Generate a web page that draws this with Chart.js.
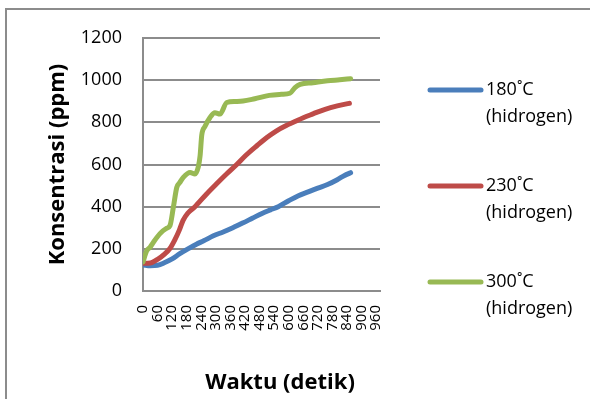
<!DOCTYPE html>
<html>
<head>
<meta charset="utf-8">
<script src="https://cdn.jsdelivr.net/npm/chart.js@4.4.1/dist/chart.umd.min.js"></script>
<style>
  html, body { margin: 0; padding: 0; background: #ffffff; }
  #wrap { width: 590px; height: 399px; }
</style>
</head>
<body>
<div id="wrap"><canvas id="chart" width="590" height="399"></canvas></div>
<script>
// Axis ticks
const timeTicks = [0, 60, 120, 180, 240, 300, 360, 420, 480, 540, 600, 660, 720, 780, 840, 900, 960];
const ppmTicks = [0, 200, 400, 600, 800, 1000, 1200];

// Series names (two text lines each)
const seriesNames = [
  ['180˚C', '(hidrogen)'],
  ['230˚C', '(hidrogen)'],
  ['300˚C', '(hidrogen)']
];

// 180 °C run: time (s) and concentration (ppm)
const time180 = [0, 30, 60, 90, 120, 150, 185, 220, 250, 290, 330, 370, 410, 450, 490, 525, 557, 600, 640, 680, 720, 760, 800, 830, 855];
const ppm180  = [124, 120, 122, 135, 152, 176, 200, 222, 238, 262, 280, 300, 322, 345, 368, 385, 400, 428, 452, 470, 488, 505, 528, 548, 561];

// 230 °C run
const time230 = [0, 30, 60, 90, 110, 130, 150, 165, 185, 214, 260, 300, 345, 386, 425, 470, 510, 550, 590, 619, 660, 700, 750, 800, 850];
const ppm230  = [132, 133, 150, 176, 200, 240, 290, 335, 370, 400, 458, 505, 556, 600, 645, 690, 728, 760, 785, 800, 822, 840, 862, 878, 890];

// 300 °C run
const time300 = [0, 15, 29, 45, 70, 95, 111, 125, 139, 152, 166, 194, 214, 228, 235, 242, 255, 276, 296, 317, 345, 380, 412, 460, 520, 570, 605, 626, 647, 700, 760, 810, 855];
const ppm300  = [138, 190, 207, 235, 272, 296, 310, 397, 491, 515, 539, 562, 555, 590, 640, 740, 780, 823, 846, 839, 894, 899, 901, 912, 928, 933, 938, 965, 980, 988, 997, 1002, 1007];

const seriesColors = ['#4A7EBB', '#BE4B48', '#98B954'];

const toPoints = (xs, ys) => xs.map((x, i) => ({ x: x, y: ys[i] }));

const FONT = 'Open Sans';

// Outer chart frame and white background
const framePlugin = {
  id: 'frame',
  beforeDraw(chart) {
    const ctx = chart.ctx;
    ctx.save();
    ctx.fillStyle = '#ffffff';
    ctx.fillRect(0, 0, chart.width, chart.height);
    ctx.strokeStyle = '#8c8c8c';
    ctx.lineWidth = 2;
    ctx.strokeRect(6, 9, chart.width + 20, chart.height + 20);
    ctx.restore();
  }
};

// Horizontal axis title
const xTitlePlugin = {
  id: 'xTitle',
  afterDraw(chart) {
    const ctx = chart.ctx;
    ctx.save();
    ctx.fillStyle = '#000000';
    ctx.font = 'bold 22px "' + FONT + '"';
    ctx.textAlign = 'center';
    ctx.textBaseline = 'middle';
    ctx.fillText('Waktu (detik)', 280, 383);
    ctx.restore();
  }
};

// Legend on the right with two-line labels
const sideLegendPlugin = {
  id: 'sideLegend',
  afterDraw(chart) {
    const ctx = chart.ctx;
    ctx.save();
    chart.data.datasets.forEach((ds, i) => {
      const y = 90 + i * 96;
      ctx.strokeStyle = ds.borderColor;
      ctx.lineWidth = 5;
      ctx.lineCap = 'round';
      ctx.beginPath();
      ctx.moveTo(430, y);
      ctx.lineTo(481, y);
      ctx.stroke();
      ctx.fillStyle = '#000000';
      ctx.font = '18px "' + FONT + '"';
      ctx.textAlign = 'left';
      ctx.textBaseline = 'middle';
      ds.label.forEach((line, k) => ctx.fillText(line, 486, y + k * 27));
    });
    ctx.restore();
  }
};

new Chart(document.getElementById('chart'), {
  type: 'line',
  data: {
    datasets: [
      { label: seriesNames[0], data: toPoints(time180, ppm180), borderColor: seriesColors[0], order: 3 },
      { label: seriesNames[1], data: toPoints(time230, ppm230), borderColor: seriesColors[1], order: 2 },
      { label: seriesNames[2], data: toPoints(time300, ppm300), borderColor: seriesColors[2], order: 1 }
    ]
  },
  options: {
    responsive: false,
    animation: false,
    devicePixelRatio: 1,
    layout: { padding: { left: 0, right: 210, top: 38, bottom: 0 } },
    elements: {
      point: { radius: 0, hoverRadius: 0 },
      line: {
        borderWidth: 5,
        cubicInterpolationMode: 'monotone',
        borderCapStyle: 'round',
        borderJoinStyle: 'round',
        fill: false
      }
    },
    plugins: {
      legend: { display: false },
      tooltip: { enabled: false }
    },
    scales: {
      x: {
        type: 'linear',
        min: 0,
        max: 976,
        afterBuildTicks: (scale) => { scale.ticks = timeTicks.map(v => ({ value: v })); },
        afterFit: (scale) => { scale.height = 108; },
        grid: { display: false, drawTicks: false },
        border: { color: '#8c8c8c', width: 2 },
        ticks: {
          autoSkip: false,
          minRotation: 90,
          maxRotation: 90,
          padding: 14,
          color: '#000000',
          font: { family: FONT, size: 15 },
          callback: (v) => String(v)
        }
      },
      y: {
        min: 0,
        max: 1200,
        afterBuildTicks: (scale) => { scale.ticks = ppmTicks.map(v => ({ value: v })); },
        afterFit: (scale) => { scale.width = 143; },
        grid: { color: '#8c8c8c', lineWidth: 2, drawTicks: false },
        border: { color: '#8c8c8c', width: 2 },
        ticks: {
          padding: 21,
          color: '#000000',
          font: { family: FONT, size: 18 },
          callback: (v) => String(v)
        },
        title: {
          display: true,
          text: 'Konsentrasi (ppm)',
          color: '#000000',
          font: { family: FONT, size: 22, weight: 'bold' },
          padding: { top: 45, bottom: 0 }
        }
      }
    }
  },
  plugins: [framePlugin, xTitlePlugin, sideLegendPlugin]
});
</script>
</body>
</html>
